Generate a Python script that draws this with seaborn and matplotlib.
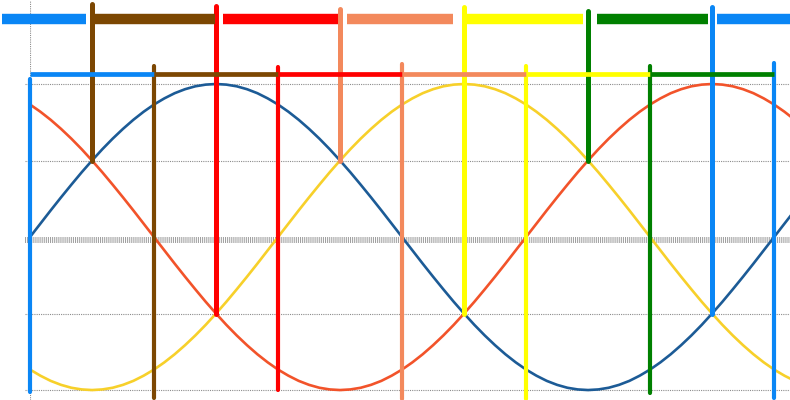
import pandas as pd
import matplotlib
matplotlib.use("Agg")
import matplotlib.pyplot as plt
import seaborn as sns

# angle (degrees) and the three phase curves
angles = [0, 5, 10, 15, 20, 25, 30, 35, 40, 45, 50, 55, 60, 65, 70, 75, 80, 85, 90,
          95, 100, 105, 110, 115, 120, 125, 130, 135, 140, 145, 150, 155, 160, 165, 170, 175, 180,
          185, 190, 195, 200, 205, 210, 215, 220, 225, 230, 235, 240, 245, 250, 255, 260, 265, 270,
          275, 280, 285, 290, 295, 300, 305, 310, 315, 320, 325, 330, 335, 340, 345, 350, 355, 360,
          365, 370]
phase_a = [0.000, 0.087, 0.174, 0.259, 0.342, 0.423, 0.500, 0.574, 0.643, 0.707, 0.766, 0.819,
           0.866, 0.906, 0.940, 0.966, 0.985, 0.996, 1.000,
           0.996, 0.985, 0.966, 0.940, 0.906, 0.866, 0.819, 0.766, 0.707, 0.643, 0.574, 0.500,
           0.423, 0.342, 0.259, 0.174, 0.087, 0.000,
           -0.087, -0.174, -0.259, -0.342, -0.423, -0.500, -0.574, -0.643, -0.707, -0.766, -0.819,
           -0.866, -0.906, -0.940, -0.966, -0.985, -0.996, -1.000,
           -0.996, -0.985, -0.966, -0.940, -0.906, -0.866, -0.819, -0.766, -0.707, -0.643, -0.574,
           -0.500, -0.423, -0.342, -0.259, -0.174, -0.087, 0.000,
           0.087, 0.174]
phase_b = [0.866, 0.819, 0.766, 0.707, 0.643, 0.574, 0.500, 0.423, 0.342, 0.259, 0.174, 0.087, 0.000,
           -0.087, -0.174, -0.259, -0.342, -0.423, -0.500, -0.574, -0.643, -0.707, -0.766, -0.819,
           -0.866, -0.906, -0.940, -0.966, -0.985, -0.996, -1.000,
           -0.996, -0.985, -0.966, -0.940, -0.906, -0.866, -0.819, -0.766, -0.707, -0.643, -0.574,
           -0.500, -0.423, -0.342, -0.259, -0.174, -0.087, 0.000,
           0.087, 0.174, 0.259, 0.342, 0.423, 0.500, 0.574, 0.643, 0.707, 0.766, 0.819, 0.866,
           0.906, 0.940, 0.966, 0.985, 0.996, 1.000,
           0.996, 0.985, 0.966, 0.940, 0.906, 0.866, 0.819, 0.766]
phase_c = [-0.866, -0.906, -0.940, -0.966, -0.985, -0.996, -1.000,
           -0.996, -0.985, -0.966, -0.940, -0.906, -0.866, -0.819, -0.766, -0.707, -0.643, -0.574,
           -0.500, -0.423, -0.342, -0.259, -0.174, -0.087, 0.000,
           0.087, 0.174, 0.259, 0.342, 0.423, 0.500, 0.574, 0.643, 0.707, 0.766, 0.819, 0.866,
           0.906, 0.940, 0.966, 0.985, 0.996, 1.000,
           0.996, 0.985, 0.966, 0.940, 0.906, 0.866, 0.819, 0.766, 0.707, 0.643, 0.574, 0.500,
           0.423, 0.342, 0.259, 0.174, 0.087, 0.000,
           -0.087, -0.174, -0.259, -0.342, -0.423, -0.500, -0.574, -0.643, -0.707, -0.766, -0.819,
           -0.866, -0.906, -0.940]

# crossing markers (where two phases meet) and the bars on top
cross_angles = [30, 90, 150, 210, 270, 330]
cross_values = [0.5, -0.5, 0.5, -0.5, 0.5, -0.5]
cross_tops = [1.52, 1.51, 1.49, 1.50, 1.48, 1.50]
bar_starts = [-13.5, 31.4, 93.4, 153.4, 210.9, 274.4, 332.5]
bar_ends = [27.1, 89.5, 149.0, 204.7, 267.6, 328.1, 367.7]
bar_level = 1.425

# zero crossing markers and the lower row of segments
zero_angles = [0, 60, 120, 180, 240, 300, 360]
zero_tops = [1.03, 1.12, 1.11, 1.13, 1.12, 1.12, 1.14]
zero_bottoms = [-1.01, -1.05, -1.00, -1.06, -1.06, -1.02, -1.05]
seg_level = 1.065

grid_levels = [1.0, 0.5, -0.5, -1.0]

sns.set_style("white")
plt.rcParams['lines.scale_dashes'] = False

curve_colors = {"A": "#1c5b96", "B": "#f2532a", "C": "#f7d02a"}
marker_colors = ["#7c4702", "#ff0000", "#f3895c", "#ffff00", "#008000", "#0a86f5"]
zero_colors = ["#0a86f5", "#7c4702", "#ff0000", "#f3895c", "#ffff00", "#008000", "#0a86f5"]
bar_colors = ["#0a86f5"] + marker_colors

df = pd.DataFrame({
    "angle": angles * 3,
    "value": phase_a + phase_b + phase_c,
    "phase": ["A"] * len(angles) + ["B"] * len(angles) + ["C"] * len(angles),
})

fig = plt.figure(figsize=(7.9, 4.0), dpi=100)
ax = fig.add_axes([30 / 790, 0, 760 / 790, 1])

# grid
for g in grid_levels:
    ax.hlines(g, -2.4, 368, colors="#8c8c8c", linewidth=0.8, linestyles=(0, (0.8, 0.8)),
              clip_on=False, zorder=0.5)
ax.hlines(-0.02, -2.4, 368, colors="#a0a0a0", linewidth=4.3, linestyles=(0, (0.75, 0.75)),
          clip_on=False, zorder=0.5)
ax.axvline(0, color="#8c8c8c", linewidth=0.8, linestyle=(0, (0.8, 0.8)), zorder=0.5)

sns.lineplot(data=df, x="angle", y="value", hue="phase", palette=curve_colors,
             linewidth=1.9, legend=False, sort=False, ax=ax, zorder=2)

# upper markers + bars
for a, v, t, c in zip(cross_angles, cross_values, cross_tops, marker_colors):
    ax.plot([a, a], [v, t], color=c, linewidth=3.6, solid_capstyle="round", zorder=3)
for s, e, c in zip(bar_starts, bar_ends, bar_colors):
    ax.plot([s, e], [bar_level, bar_level], color=c, linewidth=7.5, solid_capstyle="butt",
            clip_on=False, zorder=3)

# zero markers + lower segments
for a, t, b, c in zip(zero_angles, zero_tops, zero_bottoms, zero_colors):
    ax.plot([a, a], [b, t], color=c, linewidth=3.0, solid_capstyle="round",
            clip_on=False, zorder=3)
for i in range(len(zero_angles) - 1):
    ax.plot([zero_angles[i], zero_angles[i + 1]], [seg_level, seg_level], color=zero_colors[i],
            linewidth=3.4, solid_capstyle="butt", zorder=3)

ax.set_xlim(0, 367.7)
ax.set_ylim(-1.065, 1.549)
ax.set_xticks([])
ax.set_yticks([])
ax.set_xlabel("")
ax.set_ylabel("")
for sp in ax.spines.values():
    sp.set_visible(False)

fig.savefig("out.png", dpi=100)
